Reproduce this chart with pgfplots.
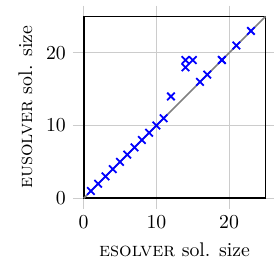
\documentclass[border={6pt 0pt -1.5pt 2.5pt}]{standalone}
\usepackage{pgfplots}
\pgfplotsset{compat=1.18}
\begin{document}
\begin{tikzpicture}
\begin{axis}[
  scale only axis,
  width=92pt, height=92pt,
  xmin=0, xmax=25, ymin=0, ymax=25,
  xtick={0,10,20}, ytick={0,10,20},
  grid=major,
  grid style={gray!40, line width=0.6pt},
  tick align=outside,
  major tick length=5.5pt,
  major tick style={gray!40, line width=0.6pt},
  axis line style={black, line width=0.9pt},
  xlabel={\textsc{esolver} sol. size},
  ylabel={\textsc{eusolver} sol. size},
  clip=false,
]
\addplot[gray, line width=0.8pt, no marks] coordinates {(0,0) (25,25)};
\addplot[only marks, mark=x, mark size=2.7pt, blue, line width=0.9pt] coordinates {
(1,1) (2,2) (3,3) (4,4) (5,5) (6,6) (7,7) (8,8) (9,9) (10,10) (11,11)
(12,14) (14,18) (14,19) (15,19) (16,16) (17,17) (19,19) (19,19) (21,21) (23,23)
};
\end{axis}
\end{tikzpicture}
\end{document}
